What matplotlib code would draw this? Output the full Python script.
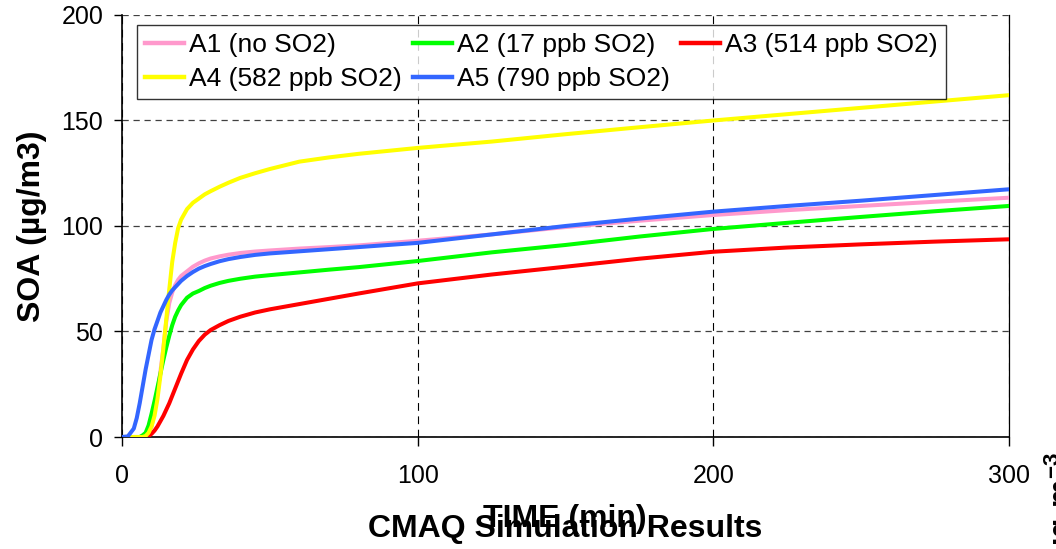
import matplotlib
matplotlib.use("Agg")
import matplotlib.pyplot as plt

plt.rcParams['font.family'] = ['Liberation Sans', 'DejaVu Sans']
plt.rcParams['mathtext.fontset'] = 'custom'
plt.rcParams['mathtext.rm'] = 'Liberation Sans'
plt.rcParams['mathtext.bf'] = 'Liberation Sans:bold'

# time in minutes
time = [0, 2, 4, 5, 6, 7, 8, 9, 10, 11, 12, 13, 14, 15, 16, 17, 18, 19, 20,
        22, 24, 26, 28, 30, 33, 36, 40, 45, 50, 60, 70, 80, 100, 125, 150,
        175, 200, 225, 250, 275, 300]

# SOA (ug/m3)
a1 = [0, 0, 0, 0, 0, 0, 0, 1.5, 5, 12, 21, 31, 42, 55, 63.5, 68.5, 72, 74.5, 76.3,
      78.5, 80.7, 82.3, 83.6, 84.6, 85.6, 86.4, 87.2, 87.9, 88.4, 89.3, 90, 90.8, 93,
      96, 99.5, 102.5, 105.2, 107.5, 109.5, 111.5, 113.4]
a2 = [0, 0, 0, 0, 0, 0.8, 2, 5.5, 11, 17, 23.5, 30, 36.5, 42.5, 48, 53, 57, 60, 62.5,
      66, 68, 69.2, 70.6, 71.7, 73, 74, 75, 76, 76.7, 78, 79.3, 80.5, 83.4,
      87.5, 91, 95, 98.6, 101.5, 104.3, 107, 109.5]
a3 = [0, 0, 0, 0, 0, 0, 0, 0.5, 1.5, 3, 5, 7.5, 10, 13, 16, 19.5, 23, 26.5, 30,
      36.5, 41.5, 45.5, 48.5, 50.7, 53, 55, 57, 59, 60.5, 63, 65.5, 68, 72.8,
      77, 80.7, 84.5, 87.8, 89.8, 91.3, 92.6, 93.7]
a4 = [0, 0, 0, 0, 0, 0, 0.5, 2, 5, 10, 18, 29, 42, 56, 70, 83, 92, 99, 103,
      108, 111, 113, 115, 116.5, 118.6, 120.5, 122.8, 125, 127, 130.5, 132.5, 134.2, 137,
      140, 143.5, 146.8, 150, 153, 156, 159, 162]
a5 = [0, 0.3, 4, 9, 16, 24, 32, 39, 46, 51, 55, 59, 62, 65, 67.5, 69.5, 71, 72.5, 74,
      76.3, 78.2, 79.8, 81, 82, 83.3, 84.3, 85.3, 86.3, 87, 88, 89, 90, 92,
      96, 100, 103.5, 106.8, 109.5, 112, 114.7, 117.4]

labels = ["A1 (no SO2)", "A2 (17 ppb SO2)", "A3 (514 ppb SO2)",
          "A4 (582 ppb SO2)", "A5 (790 ppb SO2)"]
colors = ["#FF99CC", "#00FF00", "#FF0000", "#FFFF00", "#3366FF"]
series = [a1, a2, a3, a4, a5]

fig = plt.figure(figsize=(10.56, 5.49), dpi=100)
ax = fig.add_axes([0.1155, 0.204, 0.84, 0.7687])

lines = []
for y, c, lab in zip(series, colors, labels):
    ln, = ax.plot(time, y, color=c, lw=2.9, label=lab, solid_joinstyle='round', zorder=3)
    lines.append(ln)

ax.set_xlim(0, 300)
ax.set_ylim(0, 200)
ax.set_xticks([0, 100, 200, 300])
ax.set_yticks([0, 50, 100, 150, 200])

ax.yaxis.grid(True, color='#404040', linestyle=(0, (5, 3.8)), lw=0.9)
ax.xaxis.grid(True, color='black', linestyle=(0, (7, 5)), lw=0.8)
ax.set_axisbelow(True)

ax.spines['top'].set_visible(False)
for s in ['left', 'bottom']:
    ax.spines[s].set_linewidth(1.2)
ax.spines['right'].set_linewidth(0.9)

ax.tick_params(axis='y', direction='out', length=6, width=1, labelsize=18, pad=7.5)
ax.tick_params(axis='x', direction='out', length=6.5, width=1, labelsize=18, pad=13)

ax.set_ylabel("SOA (\u00b5g/m3)", fontsize=23, fontweight='bold')
ax.yaxis.set_label_coords(-0.084, 0.5)

# legend in row order: A1 A2 A3 / A4 A5
order = [0, 3, 1, 4, 2]
leg = ax.legend([lines[i] for i in order], [labels[i] for i in order],
                ncol=3, loc='upper left', bbox_to_anchor=(0.0169, 0.9763),
                borderaxespad=0, fontsize=19, frameon=True, fancybox=False,
                handlelength=1.5, handletextpad=0.19, columnspacing=0.4,
                labelspacing=0.4, borderpad=0.3)
leg.get_frame().set_edgecolor('black')
leg.get_frame().set_linewidth(1)
for h in leg.get_lines():
    h.set_linewidth(3.2)

fig.text(0.535, 0.040, "TIME (min)", ha='center', va='baseline',
         fontsize=23, fontweight='bold')
fig.text(0.535, 0.022, "CMAQ Simulation Results", ha='center', va='baseline',
         fontsize=23, fontweight='bold')
fig.text(1043 / 1056, 1 - 452 / 549, r"$\mathbf{\mu g\ m^{-3}}$", rotation=90,
         ha='left', va='top', fontsize=23)

fig.savefig("out.png", dpi=100)
